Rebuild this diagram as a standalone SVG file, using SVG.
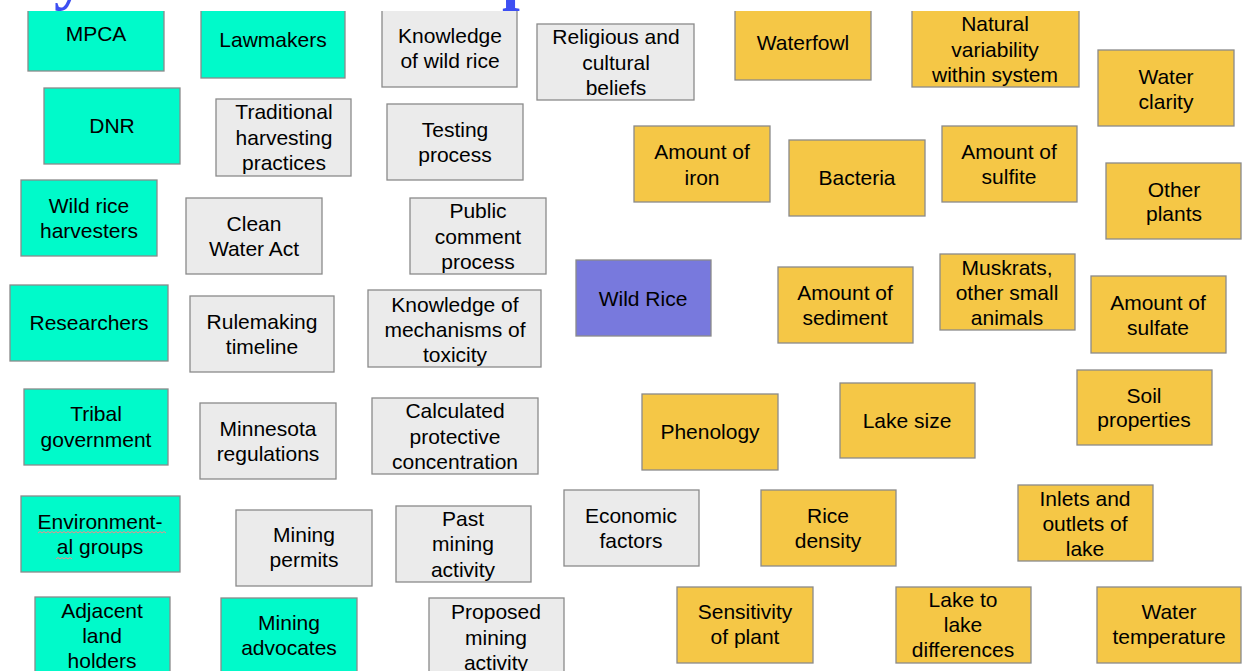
<svg xmlns="http://www.w3.org/2000/svg" width="1243" height="671" viewBox="0 0 1243 671">
<style>
rect.n{stroke:#8a8a8a;stroke-width:1.3}
.c{fill:#00FACA}
.g{fill:#EBEBEB}
.y{fill:#F5C746}
.p{fill:#7879DD;stroke:#cfd6cf}
text{font-family:"Liberation Sans",Arial,sans-serif;font-size:21px;fill:#000;text-anchor:middle}
.ttl{font-family:"Liberation Serif","Times New Roman",serif;font-weight:bold;font-size:64px;fill:#3D4FF2;text-anchor:start}
.sq{fill:none;stroke:#f08a8a;stroke-width:1}
</style>
<rect width="1243" height="671" fill="#fff"/>
<g id="nodes">
<g id="mpca"><rect class="n c" x="28" y="-10" width="136" height="81"/><text x="96" y="41">MPCA</text></g>
<g id="lawmakers"><rect class="n c" x="201" y="-10" width="144" height="88"/><text x="273" y="47">Lawmakers</text></g>
<g id="dnr"><rect class="n c" x="44" y="88" width="136" height="76"/><text x="112" y="133">DNR</text></g>
<g id="harvesters"><rect class="n c" x="21" y="180" width="136" height="76"/><text x="89" y="213">Wild rice</text><text x="89" y="238">harvesters</text></g>
<g id="researchers"><rect class="n c" x="10" y="285" width="158" height="76"/><text x="89" y="330">Researchers</text></g>
<g id="tribal"><rect class="n c" x="24" y="389" width="144" height="76"/><text x="96" y="421">Tribal</text><text x="96" y="447">government</text></g>
<g id="env-groups"><rect class="n c" x="21" y="496" width="159" height="76"/><text x="100" y="529">Environment-</text><text x="100" y="554">al groups</text>
<path class="sq" d="M38 533 l2 -1.5 l2 1.5 l2 -1.5 l2 1.5 l2 -1.5 l2 1.5 l2 -1.5 l2 1.5 l2 -1.5 l2 1.5 l2 -1.5 l2 1.5 l2 -1.5 l2 1.5 l2 -1.5 l2 1.5 l2 -1.5 l2 1.5 l2 -1.5 l2 1.5 l2 -1.5 l2 1.5 l2 -1.5 l2 1.5 l2 -1.5 l2 1.5 l2 -1.5 l2 1.5 l2 -1.5 l2 1.5 l2 -1.5 l2 1.5 l2 -1.5 l2 1.5 l2 -1.5 l2 1.5 l2 -1.5 l2 1.5 l2 -1.5 l2 1.5 l2 -1.5 l2 1.5 l2 -1.5 l2 1.5 l2 -1.5 l2 1.5 l2 -1.5 l2 1.5 l2 -1.5 l2 1.5 l2 -1.5 l2 1.5 l2 -1.5 l2 1.5 l2 -1.5 l2 1.5 l2 -1.5 l2 1.5 l2 -1.5 l2 1.5 l2 -1.5 l2 1.5 l2 -1.5 l2 1.5"/>
<path class="sq" d="M56 559 l2 -1.5 l2 1.5 l2 -1.5 l2 1.5 l2 -1.5 l2 1.5 l2 -1.5 l2 1.5"/></g>
<g id="adjacent"><rect class="n c" x="35" y="597" width="135" height="100"/><text x="102" y="618">Adjacent</text><text x="102" y="643">land</text><text x="102" y="668">holders</text></g>
<g id="traditional"><rect class="n g" x="216" y="99" width="135" height="77"/><text x="284" y="119">Traditional</text><text x="284" y="145">harvesting</text><text x="284" y="170">practices</text></g>
<g id="clean-water"><rect class="n g" x="186" y="198" width="136" height="76"/><text x="254" y="231">Clean</text><text x="254" y="256">Water Act</text></g>
<g id="rulemaking"><rect class="n g" x="190" y="296" width="144" height="76"/><text x="262" y="329">Rulemaking</text><text x="262" y="354">timeline</text></g>
<g id="minnesota"><rect class="n g" x="200" y="403" width="136" height="76"/><text x="268" y="436">Minnesota</text><text x="268" y="461">regulations</text></g>
<g id="mining-permits"><rect class="n g" x="236" y="510" width="136" height="76"/><text x="304" y="542">Mining</text><text x="304" y="567">permits</text></g>
<g id="mining-advocates"><rect class="n c" x="221" y="598" width="136" height="100"/><text x="289" y="630">Mining</text><text x="289" y="655">advocates</text></g>
<g id="knowledge-rice"><rect class="n g" x="382" y="-10" width="135" height="97"/><text x="450" y="43">Knowledge</text><text x="450" y="68">of wild rice</text></g>
<g id="testing"><rect class="n g" x="387" y="104" width="136" height="76"/><text x="455" y="137">Testing</text><text x="455" y="162">process</text></g>
<g id="public-comment"><rect class="n g" x="410" y="198" width="136" height="76"/><text x="478" y="218">Public</text><text x="478" y="244">comment</text><text x="478" y="269">process</text></g>
<g id="religious"><rect class="n g" x="537" y="24" width="157" height="76"/><text x="616" y="44">Religious and</text><text x="616" y="70">cultural</text><text x="616" y="95">beliefs</text></g>
<g id="mechanisms"><rect class="n g" x="368" y="290" width="173" height="77"/><text x="455" y="312">Knowledge of</text><text x="455" y="337">mechanisms of</text><text x="455" y="362">toxicity</text></g>
<g id="calculated"><rect class="n g" x="372" y="398" width="166" height="76"/><text x="455" y="418">Calculated</text><text x="455" y="444">protective</text><text x="455" y="469">concentration</text></g>
<g id="past-mining"><rect class="n g" x="396" y="506" width="135" height="76"/><text x="463" y="526">Past</text><text x="463" y="551">mining</text><text x="463" y="577">activity</text></g>
<g id="proposed-mining"><rect class="n g" x="429" y="598" width="135" height="100"/><text x="496" y="619">Proposed</text><text x="496" y="645">mining</text><text x="496" y="670">activity</text></g>
<g id="economic"><rect class="n g" x="564" y="490" width="135" height="76"/><text x="631" y="523">Economic</text><text x="631" y="548">factors</text></g>
<g id="wild-rice"><rect class="n p" x="576" y="260" width="135" height="76"/><text x="643" y="306">Wild Rice</text></g>
<g id="waterfowl"><rect class="n y" x="735" y="-10" width="136" height="90"/><text x="803" y="50">Waterfowl</text></g>
<g id="natural-variability"><rect class="n y" x="912" y="-10" width="167" height="97"/><text x="995" y="31">Natural</text><text x="995" y="57">variability</text><text x="995" y="82">within system</text></g>
<g id="water-clarity"><rect class="n y" x="1098" y="50" width="136" height="76"/><text x="1166" y="84">Water</text><text x="1166" y="109">clarity</text></g>
<g id="iron"><rect class="n y" x="634" y="126" width="136" height="76"/><text x="702" y="159">Amount of</text><text x="702" y="185">iron</text></g>
<g id="bacteria"><rect class="n y" x="789" y="140" width="136" height="76"/><text x="857" y="185">Bacteria</text></g>
<g id="sulfite"><rect class="n y" x="942" y="126" width="135" height="76"/><text x="1009" y="159">Amount of</text><text x="1009" y="184">sulfite</text></g>
<g id="other-plants"><rect class="n y" x="1106" y="163" width="135" height="76"/><text x="1174" y="197">Other</text><text x="1174" y="221">plants</text></g>
<g id="sediment"><rect class="n y" x="778" y="267" width="135" height="76"/><text x="845" y="300">Amount of</text><text x="845" y="325">sediment</text></g>
<g id="muskrats"><rect class="n y" x="940" y="254" width="135" height="76"/><text x="1007" y="275">Muskrats,</text><text x="1007" y="300">other small</text><text x="1007" y="325">animals</text></g>
<g id="sulfate"><rect class="n y" x="1091" y="276" width="135" height="77"/><text x="1158" y="310">Amount of</text><text x="1158" y="335">sulfate</text></g>
<g id="phenology"><rect class="n y" x="642" y="394" width="136" height="76"/><text x="710" y="439">Phenology</text></g>
<g id="lake-size"><rect class="n y" x="840" y="383" width="135" height="75"/><text x="907" y="428">Lake size</text></g>
<g id="soil"><rect class="n y" x="1077" y="370" width="135" height="75"/><text x="1144" y="403">Soil</text><text x="1144" y="427">properties</text></g>
<g id="rice-density"><rect class="n y" x="761" y="490" width="135" height="76"/><text x="828" y="523">Rice</text><text x="828" y="548">density</text></g>
<g id="inlets"><rect class="n y" x="1018" y="485" width="135" height="76"/><text x="1085" y="506">Inlets and</text><text x="1085" y="531">outlets of</text><text x="1085" y="556">lake</text></g>
<g id="sensitivity"><rect class="n y" x="677" y="587" width="136" height="76"/><text x="745" y="619">Sensitivity</text><text x="745" y="644">of plant</text></g>
<g id="lake-to-lake"><rect class="n y" x="896" y="587" width="135" height="76"/><text x="963" y="607">Lake to</text><text x="963" y="632">lake</text><text x="963" y="657">differences</text></g>
<g id="water-temp"><rect class="n y" x="1097" y="587" width="144" height="76"/><text x="1169" y="619">Water</text><text x="1169" y="644">temperature</text></g>
</g>
<g id="connectors"></g>
<g id="title">
<rect x="0" y="0" width="1243" height="11" fill="#fff"/>
<text class="ttl" x="54" y="-3">y</text>
<text class="ttl" x="502" y="-3">p</text>
</g>
</svg>
